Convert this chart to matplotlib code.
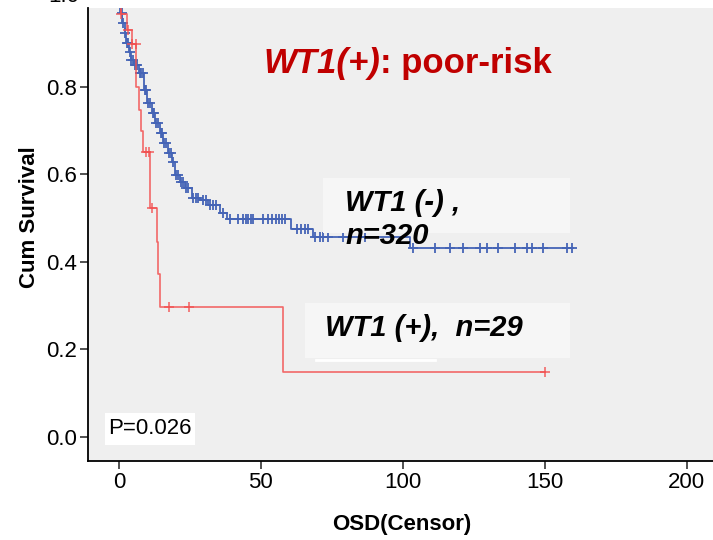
import numpy as np
import matplotlib.pyplot as plt
from matplotlib.patches import Rectangle

# ---- WT1(-) n=320 : step times and survival after each step ----
neg_t = [0, 0.5, 1.2, 2.0, 2.5, 3.5, 4.2, 5.3, 7.0, 8.8, 10.0, 11.6, 12.7, 14.4,
         15.5, 17.3, 18.7, 19.7, 21.5, 23.2, 25.7, 28.5, 31.3, 35.6, 38.0,
         60.5, 68.5, 102.5]
neg_s = [1.0, 0.97, 0.946, 0.923, 0.90, 0.88, 0.862, 0.85, 0.832, 0.793, 0.763,
         0.74, 0.718, 0.695, 0.672, 0.649, 0.629, 0.599, 0.583, 0.569, 0.546,
         0.542, 0.530, 0.512, 0.498, 0.475, 0.457, 0.432]
neg_end = 160
neg_cens = [1.0, 1.5, 2.2, 2.7, 3.2, 3.8, 4.4, 4.8, 5.5, 6.0, 6.5, 7.3, 7.8, 8.4,
            9.2, 9.7, 10.4, 11.0, 11.9, 12.4, 13.0, 13.6, 14.8, 15.2, 16.0, 16.6,
            17.6, 18.2, 19.0, 20.2, 20.8, 21.8, 22.5, 23.6, 24.4, 26.2, 27.0,
            28.0, 29.5, 30.5, 32.0, 33.0, 34.2, 36.5, 39.0, 41.9, 43.7, 44.7,
            45.4, 46.5, 47.2, 50.7, 52.5, 53.9, 55.3, 56.3, 57.4, 58.5, 62.7,
            64.1, 65.5, 66.5, 69.0, 70.8, 71.8, 73.6, 78.9, 86.6, 103.5, 111.3,
            116.5, 121.1, 127.1, 129.6, 133.5, 139.4, 143.7, 145.4, 149.3,
            157.7, 159.5]

# ---- WT1(+) n=29 ----
pos_t = [0, 0.7, 2.8, 4.6, 6.0, 7.0, 7.7, 8.5, 11.0, 13.4, 13.7, 14.4, 57.7]
pos_s = [1.0, 0.967, 0.930, 0.898, 0.80, 0.747, 0.70, 0.651, 0.523, 0.446,
         0.372, 0.297, 0.149]
pos_end = 150
pos_cens = [0.8, 3.2, 4.6, 5.9, 9.5, 10.5, 11.6, 17.6, 24.6, 150]

x_ticks = [0, 50, 100, 150, 200]
y_ticks = [0.0, 0.2, 0.4, 0.6, 0.8]

BLUE = '#4564b6'
RED = '#f25050'
DARKRED = '#c00000'


def step_xy(t, s, end):
    x = list(t) + [end]
    y = list(s) + [s[-1]]
    return x, y


def surv_at(t, s, times):
    idx = np.searchsorted(t, times, side='right') - 1
    return np.array(s)[idx]


plt.rcParams['font.family'] = ['Liberation Sans', 'DejaVu Sans']
W, H = 713, 540
fig = plt.figure(figsize=(W / 100, H / 100), dpi=100)
ax = fig.add_axes([88 / W, 1 - 461 / H, 625 / W, 453 / H])
ax.set_facecolor('#efefef')

# curves
x, y = step_xy(neg_t, neg_s, neg_end)
ax.step(x, y, where='post', color=BLUE, lw=1.3, zorder=3)
ax.plot(neg_cens, surv_at(neg_t, neg_s, neg_cens), ls='none', marker='+',
        ms=6.5, mew=1.3, color=BLUE, zorder=3)

x, y = step_xy(pos_t, pos_s, pos_end)
ax.step(x, y, where='post', color=RED, lw=1.2, alpha=0.85, zorder=3)
ax.plot(pos_cens, surv_at(pos_t, pos_s, pos_cens), ls='none', marker='+',
        ms=7, mew=1.1, color=RED, alpha=0.9, zorder=3)

ax.set_xlim(-10.9, 209.2)
ax.set_ylim(-0.055, 0.9806)
ax.set_xticks(x_ticks)
ax.set_yticks(y_ticks)
ax.set_yticklabels([f'{v:.1f}' for v in y_ticks])
ax.tick_params(labelsize=16, length=6, width=1.2, pad=2, direction='out',
               color='#333333')
for side in ['top', 'right']:
    ax.spines[side].set_visible(False)
for side in ['left', 'bottom']:
    ax.spines[side].set_linewidth(1.3)
ax.set_xlabel('OSD(Censor)', fontsize=16, fontweight='bold')
ax.set_ylabel('Cum Survival', fontsize=16, fontweight='bold')
ax.xaxis.set_label_coords(0.502, -0.141)
ax.yaxis.set_label_coords(-0.093, 0.539)
ax.xaxis.label.set_va('center')
ax.yaxis.label.set_va('center')

# the 1.0 tick label sits above the cropped plot area
fig.text(79 / W, 1 + 3 / H, '1.0', fontsize=16, ha='right', va='center')

# title inside the plot
t1 = fig.text(263 / W, 1 - 63 / H, 'WT1(+)', fontsize=25, fontweight='bold',
              style='italic', color=DARKRED, ha='left', va='center')
fig.canvas.draw()
bb = t1.get_window_extent()
fig.text(bb.x1 / W, 1 - 63 / H, ': poor-risk', fontsize=25, fontweight='bold',
         color=DARKRED, ha='left', va='center')

# label boxes
fig.patches.append(Rectangle((323 / W, 1 - 233 / H), 247 / W, 55 / H,
                             transform=fig.transFigure, facecolor='#f6f6f6',
                             edgecolor='none', zorder=2))
fig.patches.append(Rectangle((305 / W, 1 - 358 / H), 265 / W, 55 / H,
                             transform=fig.transFigure, facecolor='#f6f6f6',
                             edgecolor='none', zorder=2))
fig.text(345 / W, 1 - 203 / H, 'WT1 (-) ,', fontsize=21, fontweight='bold',
         style='italic', va='center', zorder=5)
fig.text(345 / W, 1 - 236 / H, 'n=320', fontsize=21, fontweight='bold',
         style='italic', va='center', zorder=5)
fig.text(325 / W, 1 - 328 / H, 'WT1 (+),  n=29', fontsize=21, fontweight='bold',
         style='italic', va='center', zorder=5)
fig.lines.append(plt.Line2D([316 / W, 435 / W], [1 - 360 / H, 1 - 360 / H],
                            transform=fig.transFigure, color='white', lw=2))

# p-value box
fig.patches.append(Rectangle((105 / W, 1 - 445 / H), 90 / W, 32 / H,
                             transform=fig.transFigure, facecolor='white',
                             edgecolor='none', zorder=2))
fig.text(108 / W, 1 - 429 / H, 'P=0.026', fontsize=16, va='center', zorder=5)

fig.savefig('out.png', dpi=100)
